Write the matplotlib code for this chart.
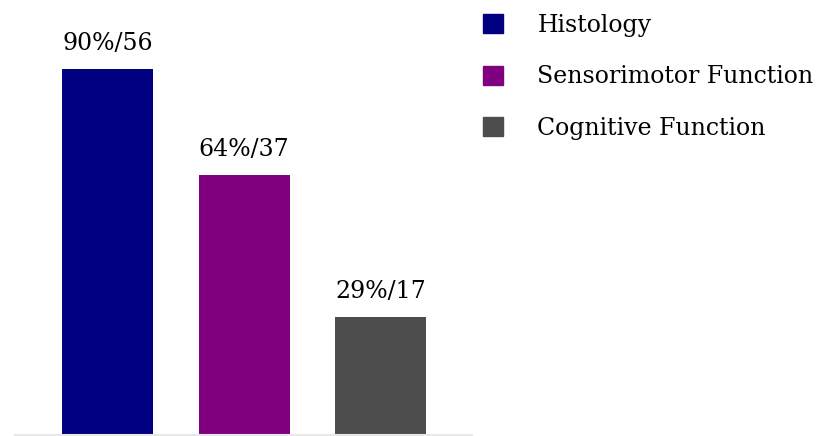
import matplotlib
matplotlib.use("Agg")
import matplotlib.pyplot as plt
import matplotlib.patches as mpatches

categories = ["Histology", "Sensorimotor Function", "Cognitive Function"]
percents = [90, 64, 29]
counts = [56, 37, 17]
colors = ["#000080", "#800080", "#4d4d4d"]

plt.rcParams["font.family"] = ["DejaVu Serif"]

fig = plt.figure(figsize=(8.19, 4.36), dpi=100)
ax = fig.add_axes([15 / 819, 1 / 436, 457 / 819, 435 / 436])

x = list(range(len(categories)))
bars = ax.bar(x, percents, width=0.667, color=colors)

# Value labels above bars
for bar, p, n in zip(bars, percents, counts):
    ax.annotate(f"{p}%/{n}", (bar.get_x() + bar.get_width() / 2, bar.get_height()),
                xytext=(0, 10), textcoords="offset points",
                ha="center", va="bottom", fontsize=17, color="#000000")

ax.set_xlim(-0.678, 2.67)
ax.set_ylim(0, 107)
for side in ["top", "right", "left"]:
    ax.spines[side].set_visible(False)
ax.spines["bottom"].set_color("#e8e8e8")
ax.spines["bottom"].set_linewidth(1.5)
ax.set_xticks([])
ax.set_yticks([])

handles = [mpatches.Patch(color=c, label=l) for c, l in zip(colors, categories)]
fig.legend(handles=handles, loc="upper left", bbox_to_anchor=(483 / 819, 1 - 14 / 436),
           frameon=False, fontsize=17, handlelength=0.85, handleheight=0.85,
           handletextpad=1.45, labelspacing=1.2, borderpad=0, borderaxespad=0)

fig.savefig("out.png", dpi=100)
